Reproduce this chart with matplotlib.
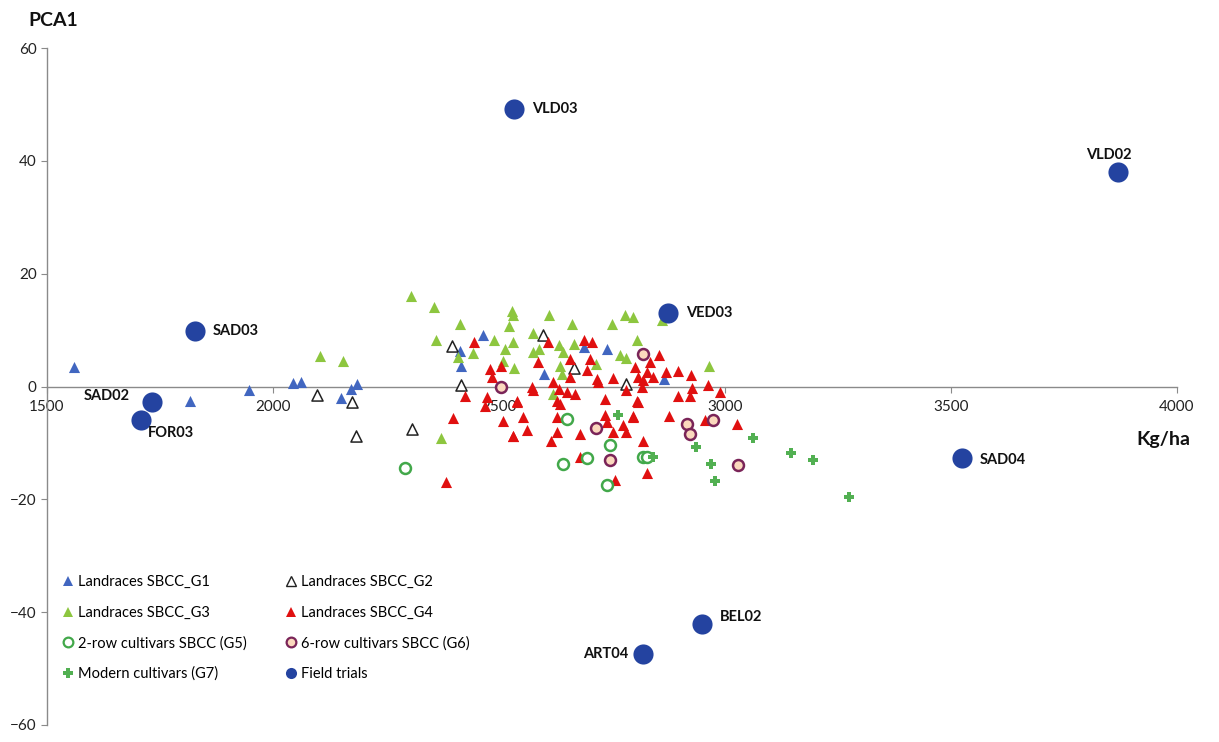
import matplotlib
matplotlib.use("Agg")
import matplotlib.pyplot as plt
from matplotlib.lines import Line2D

plt.rcParams["font.family"] = ["Lato", "DejaVu Sans"]

# --- grain yield (kg/ha) vs PCA1 score per group ---
g1_x = [1560, 1817, 1946, 2044, 2062, 2150, 2172, 2186, 2465, 2414, 2417,
        2740, 2687, 2600, 2864]
g1_y = [3.4, -2.5, -0.6, 0.6, 0.8, -2.1, -0.5, 0.4, 9.1, 6.3, 3.7,
        6.7, 7.0, 2.3, 1.4]

g2_x = [2097, 2174, 2184, 2308, 2395, 2415, 2598, 2666, 2781]
g2_y = [-1.5, -2.7, -8.8, -7.5, 7.2, 0.2, 9.2, 3.3, 0.5]

g3_x = [2105, 2154, 2305, 2357, 2414, 2361, 2443, 2410, 2371, 2489,
        2528, 2532, 2523, 2530, 2513, 2509, 2534, 2611, 2662, 2575,
        2633, 2665, 2575, 2589, 2642, 2635, 2639, 2715, 2749, 2779,
        2797, 2805, 2768, 2782, 2620, 2860, 2965]
g3_y = [5.4, 4.6, 16.0, 14.1, 11.1, 8.2, 6.0, 5.2, -9.1, 8.2,
        13.4, 12.6, 10.8, 7.9, 6.7, 4.6, 3.3, 12.6, 11.0, 9.4,
        7.4, 7.6, 6.2, 6.6, 6.2, 3.7, 2.3, 4.0, 11.1, 12.6,
        12.3, 8.2, 5.5, 5.1, -1.3, 11.7, 3.7]

g4_x = [2445, 2480, 2504, 2484, 2425, 2473, 2469, 2399, 2509, 2530,
        2382, 2539, 2687, 2706, 2608, 2587, 2656, 2701, 2695, 2656,
        2716, 2719, 2753, 2572, 2576, 2619, 2633, 2651, 2668, 2628,
        2635, 2539, 2734, 2782, 2805, 2554, 2628, 2734, 2561, 2532,
        2628, 2616, 2679, 2738, 2753, 2775, 2782, 2797, 2680, 2757,
        2853, 2834, 2801, 2827, 2869, 2897, 2925, 2841, 2819, 2808,
        2816, 2963, 2926, 2989, 2897, 2923, 2808, 2797, 2875, 2956,
        3026, 2819, 2827]
g4_y = [7.9, 3.1, 3.6, 1.7, -1.6, -1.9, -3.4, -5.6, -6.2, -8.7,
        -17.0, -2.5, 8.2, 7.9, 7.9, 4.3, 4.9, 4.8, 3.0, 1.7,
        1.4, 0.8, 1.5, 0.0, -0.7, 0.8, -0.4, -1.0, -1.3, -2.5,
        -3.1, -2.8, -2.2, -0.7, -2.5, -5.4, -5.4, -5.1, -7.7, -8.7,
        -8.0, -9.6, -8.4, -6.3, -8.1, -6.9, -8.1, -5.4, -12.5, -16.6,
        5.5, 4.3, 3.4, 2.5, 2.5, 2.7, 2.1, 1.7, 1.1, 1.7,
        -0.1, 0.2, -0.2, -1.0, -1.6, -1.6, -2.8, -5.3, -5.3, -6.0,
        -6.7, -9.6, -15.4]

g5_x = [2291, 2650, 2746, 2695, 2641, 2738, 2819, 2827]
g5_y = [-14.5, -5.7, -10.3, -12.7, -13.7, -17.4, -12.5, -12.5]

g6_x = [2504, 2715, 2746, 2819, 2917, 2923, 2973, 3029]
g6_y = [-0.1, -7.3, -13.1, 5.8, -6.6, -8.4, -5.9, -14.0]

g7_x = [2764, 2841, 3063, 2936, 2969, 2978, 3147, 3194, 3275]
g7_y = [-5.1, -12.5, -9.2, -10.8, -13.8, -16.8, -11.7, -13.0, -19.5]

trial_names = ["VLD03", "VLD02", "VED03", "SAD03", "SAD02", "FOR03",
               "SAD04", "BEL02", "ART04"]
trial_x = [2533, 3869, 2874, 1827, 1732, 1708, 3524, 2949, 2819]
trial_y = [49.2, 38.0, 13.0, 9.8, -2.8, -6.0, -12.6, -42.1, -47.4]

# label placement for each field trial (pixel offset, alignment)
label_pos = {
    "VLD03": (18, 0, "left"), "VLD02": (-9, 17, "center"),
    "VED03": (18, 0, "left"), "SAD03": (18, 0, "left"),
    "SAD02": (-22, 6, "right"), "FOR03": (7, -13, "left"),
    "SAD04": (18, -2, "left"), "BEL02": (18, 7, "left"),
    "ART04": (-15, 0, "right"),
}

C_G1 = "#4166c0"
C_G3 = "#8dc63f"
C_G4 = "#e01010"
C_G5 = "#42a84a"
C_G6_EDGE = "#7a2458"
C_G6_FILL = "#fbd8bd"
C_G7 = "#52b052"
C_TRIAL = "#2443a0"

fig = plt.figure(figsize=(12.19, 7.42), dpi=100)
ax = fig.add_axes([47 / 1219, 1 - 725 / 742, 1130 / 1219, 677 / 742])

ms = 64
ax.scatter(g1_x, g1_y, marker="^", s=ms, color=C_G1, linewidths=0, zorder=3)
ax.scatter(g2_x, g2_y, marker="^", s=ms, facecolors="white", edgecolors="#222222",
           linewidths=1.1, zorder=3)
ax.scatter(g3_x, g3_y, marker="^", s=ms, color=C_G3, linewidths=0, zorder=3)
ax.scatter(g4_x, g4_y, marker="^", s=ms, color=C_G4, linewidths=0, zorder=3)
ax.scatter(g5_x, g5_y, marker="o", s=62, facecolors="white", edgecolors=C_G5,
           linewidths=1.8, zorder=3)
ax.scatter(g6_x, g6_y, marker="o", s=62, facecolors=C_G6_FILL, edgecolors=C_G6_EDGE,
           linewidths=1.8, zorder=3)
ax.scatter(g7_x, g7_y, marker="P", s=58, color=C_G7, linewidths=0, zorder=3)
ax.scatter(trial_x, trial_y, marker="o", s=210, color=C_TRIAL, linewidths=0, zorder=4)

for name, x, y in zip(trial_names, trial_x, trial_y):
    dx, dy, ha = label_pos[name]
    ax.annotate(name, (x, y), xytext=(dx, dy), textcoords="offset pixels",
                ha=ha, va="center", fontsize=10.5, fontweight="bold",
                color="#111111", zorder=5)

ax.set_xlim(1500, 4000)
ax.set_ylim(-60, 60)
ax.set_xticks([1500, 2000, 2500, 3000, 3500, 4000])
ax.set_yticks([-60, -40, -20, 0, 20, 40, 60])

for s in ["top", "right"]:
    ax.spines[s].set_visible(False)
ax.spines["bottom"].set_position(("data", 0))
for s in ["left", "bottom"]:
    ax.spines[s].set_color("#8a8a8a")
    ax.spines[s].set_linewidth(1.0)
ax.tick_params(axis="both", direction="out", length=4, width=0.8,
               color="#8a8a8a", labelsize=11, labelcolor="#222222")
ax.tick_params(axis="x", pad=6)
ax.patch.set_visible(False)

fig.text(28 / 1219, 1 - 20 / 742, "PCA1", fontsize=14, fontweight="bold",
         va="center", ha="left", color="#111111")
fig.text(1190 / 1219, 1 - 440 / 742, "Kg/ha", fontsize=14, fontweight="bold",
         va="center", ha="right", color="#111111")

handles = [
    Line2D([], [], ls="", marker="^", ms=7, color=C_G1, mew=0, label="Landraces SBCC_G1"),
    Line2D([], [], ls="", marker="^", ms=7, color=C_G3, mew=0, label="Landraces SBCC_G3"),
    Line2D([], [], ls="", marker="o", ms=7, mfc="white", mec=C_G5, mew=1.6,
           label="2-row cultivars SBCC (G5)"),
    Line2D([], [], ls="", marker="P", ms=7, color=C_G7, mew=0, label="Modern cultivars (G7)"),
    Line2D([], [], ls="", marker="^", ms=7, mfc="white", mec="#222222", mew=1.0,
           label="Landraces SBCC_G2"),
    Line2D([], [], ls="", marker="^", ms=7, color=C_G4, mew=0, label="Landraces SBCC_G4"),
    Line2D([], [], ls="", marker="o", ms=7, mfc=C_G6_FILL, mec=C_G6_EDGE, mew=1.6,
           label="6-row cultivars SBCC (G6)"),
    Line2D([], [], ls="", marker="o", ms=8, color=C_TRIAL, mew=0, label="Field trials"),
]
fig.legend(handles=handles, ncol=2, frameon=False, fontsize=10.5,
           loc="upper left", bbox_to_anchor=(55 / 1219, 1 - 568 / 742),
           handlelength=0.8, handletextpad=0.3, columnspacing=2.6,
           labelspacing=1.12, borderpad=0)

fig.savefig("out.png", dpi=100, facecolor="white")
